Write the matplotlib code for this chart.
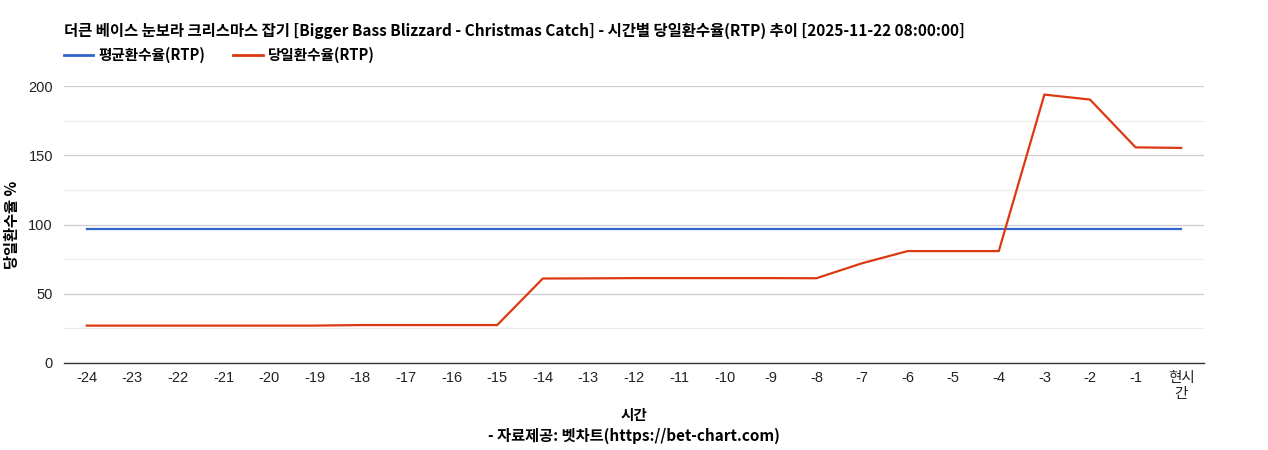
import matplotlib
matplotlib.use("Agg")
import matplotlib.pyplot as plt
from matplotlib.lines import Line2D

plt.rcParams['font.family'] = ['Liberation Sans', 'Noto Sans CJK KR', 'DejaVu Sans']

# 데이터
hours = ['-24', '-23', '-22', '-21', '-20', '-19', '-18', '-17', '-16', '-15', '-14', '-13',
         '-12', '-11', '-10', '-9', '-8', '-7', '-6', '-5', '-4', '-3', '-2', '-1', '현시\n간']
avg_rtp = [96.4] * 25
day_rtp = [27.0, 27.0, 27.0, 27.0, 27.0, 27.0, 27.4, 27.4, 27.4, 27.4, 61.0, 61.1,
           61.3, 61.3, 61.3, 61.3, 61.2, 72.0, 80.8, 80.8, 80.8, 193.8, 190.2, 155.7, 155.3]

title = '더큰 베이스 눈보라 크리스마스 잡기 [Bigger Bass Blizzard - Christmas Catch] - 시간별 당일환수율(RTP) 추이 [2025-11-22 08:00:00]'
kr = ['Noto Sans CJK KR', 'DejaVu Sans']

fig = plt.figure(figsize=(12.68, 4.5), dpi=100)
ax = fig.add_axes([64 / 1268, 87 / 450, 1140 / 1268, 277 / 450])

x = list(range(len(hours)))
ax.plot(x, avg_rtp, color='#3366cc', lw=1.6, zorder=3)
ax.plot(x, day_rtp, color='#dc3912', lw=1.6, zorder=3)

ax.set_xlim(-0.5, len(hours) - 0.5)
ax.set_ylim(0, 200)
ax.set_yticks([0, 50, 100, 150, 200])
ax.set_yticks([25, 75, 125, 175], minor=True)
ax.set_xticks(x)
ax.set_xticklabels(hours, fontsize=10.5, color='#222222', linespacing=1.15)
ax.tick_params(axis='y', labelsize=10.5, colors='#222222', length=0, pad=8)
ax.tick_params(axis='y', which='minor', length=0)
ax.tick_params(axis='x', length=0, pad=6, colors='#222222')
ax.grid(axis='y', which='major', color='#cccccc', lw=0.9)
ax.grid(axis='y', which='minor', color='#ebebeb', lw=0.9)
ax.set_axisbelow(True)
for s in ['top', 'right', 'left']:
    ax.spines[s].set_visible(False)
ax.spines['bottom'].set_color('#333333')
ax.spines['bottom'].set_linewidth(1.0)

ax.set_ylabel('당일환수율 %', family=kr, fontsize=11, fontweight='bold')
ax.yaxis.set_label_coords(-44 / 1140, 0.5)
ax.set_xlabel('시간', family=kr, fontsize=10.5, fontweight='bold')
ax.xaxis.set_label_coords(0.5, -44 / 277)

fig.text(64 / 1268, 1 - 31 / 450, title, family=kr, fontsize=11.1, fontweight='bold',
         va='center', ha='left', color='#000000')
fig.text(634 / 1268, 1 - 436 / 450, '- 자료제공: 벳차트(https://bet-chart.com)', family=kr,
         fontsize=11, fontweight='bold', va='center', ha='center')

handles = [Line2D([], [], color='#3366cc', lw=2), Line2D([], [], color='#dc3912', lw=2)]
leg = fig.legend(handles, ['평균환수율(RTP)', '당일환수율(RTP)'], loc='center left',
                 bbox_to_anchor=(58 / 1268, 1 - 55 / 450), ncol=2, frameon=False,
                 prop={'family': kr, 'size': 10.5, 'weight': 'bold'},
                 handlelength=2.0, handletextpad=0.4, columnspacing=1.9, borderaxespad=0)

fig.savefig('out.png', dpi=100)
